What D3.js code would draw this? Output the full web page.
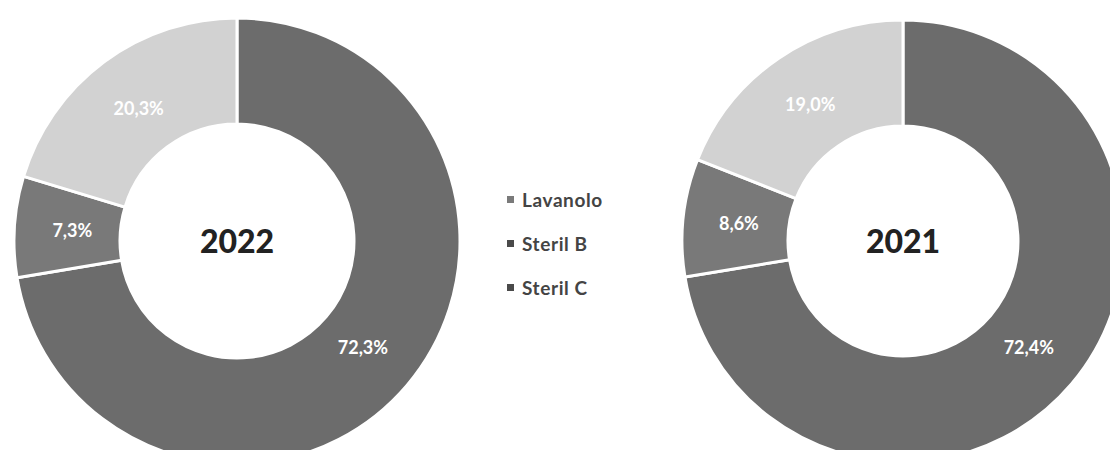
<!DOCTYPE html>
<html>
<head>
<meta charset="utf-8">
<script src="https://cdn.jsdelivr.net/npm/d3@7"></script>
<style>
  body { margin: 0; background: #fff; }
  svg { display: block; }
</style>
</head>
<body>
<svg id="chart"></svg>
<script>
// data
var categories = ["Lavanolo", "Steril B", "Steril C"];
var years = ["2022", "2021"];
var values2022 = [72.3, 7.3, 20.3];
var values2021 = [72.4, 8.6, 19.0];
var seriesColors = ["#6c6c6c", "#797979", "#d2d2d2"];
var legendColors = ["#7a7a7a", "#4a4a4a", "#4a4a4a"];

var width = 1110, height = 450;
var svg = d3.select("#chart").attr("width", width).attr("height", height);

var color = d3.scaleOrdinal().domain(categories).range(seriesColors);
var swatch = d3.scaleOrdinal().domain(categories).range(legendColors);

var pie = d3.pie().sort(null).value(function(d) { return d.value; });

function fmt(v) {
  return v.toFixed(1).replace(".", ",") + "%";
}

function drawDonut(cx, cy, rOuter, rInner, year, values) {
  var g = svg.append("g").attr("transform", "translate(" + cx + "," + cy + ")");
  var data = categories.map(function(c, i) { return { name: c, value: values[i] }; });
  var arcs = pie(data);
  var arc = d3.arc().innerRadius(rInner).outerRadius(rOuter);
  var labelArc = d3.arc().innerRadius(165).outerRadius(165);

  g.selectAll("path.slice")
    .data(arcs)
    .enter().append("path")
    .attr("class", "slice")
    .attr("d", arc)
    .attr("fill", function(d) { return color(d.data.name); })
    .attr("stroke", "#fff")
    .attr("stroke-width", 3);

  g.selectAll("text.lbl")
    .data(arcs)
    .enter().append("text")
    .attr("class", "lbl")
    .attr("transform", function(d) { return "translate(" + labelArc.centroid(d) + ")"; })
    .attr("text-anchor", "middle")
    .attr("dy", "0.35em")
    .attr("fill", "#fff")
    .style("font-family", "Lato, 'Open Sans', sans-serif")
    .style("font-size", "18px")
    .style("font-weight", "bold")
    .text(function(d) { return fmt(d.data.value); });

  g.append("text")
    .attr("text-anchor", "middle")
    .attr("dy", "0.36em")
    .attr("fill", "#222")
    .style("font-family", "Lato, 'Open Sans', sans-serif")
    .style("font-size", "32px")
    .style("font-weight", "900")
    .text(year);
}

drawDonut(237, 241, 223, 117, years[0], values2022);
drawDonut(903, 241, 221, 115, years[1], values2021);

// legend
var legend = svg.append("g").attr("transform", "translate(507,200)");
var items = legend.selectAll("g.item")
  .data(categories)
  .enter().append("g")
  .attr("class", "item")
  .attr("transform", function(d, i) { return "translate(0," + (i * 44) + ")"; });

items.append("rect")
  .attr("x", 0).attr("y", -4)
  .attr("width", 7).attr("height", 7)
  .attr("fill", function(d) { return swatch(d); });

items.append("text")
  .attr("x", 15)
  .attr("dy", "0.35em")
  .attr("fill", "#444")
  .style("font-family", "Lato, 'Open Sans', sans-serif")
  .style("font-size", "19px")
  .style("font-weight", "bold")
  .style("letter-spacing", "0.6px")
  .text(function(d) { return d; });
</script>
</body>
</html>
